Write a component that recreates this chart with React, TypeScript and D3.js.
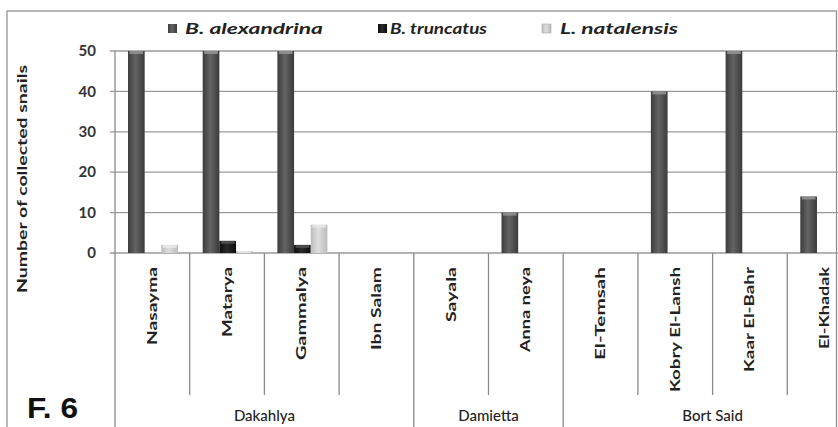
import React from "react";
import * as d3 from "d3";

const categories = ["Nasayma", "Matarya", "Gammalya", "Ibn Salam", "Sayala", "Anna neya", "El-Temsah", "Kobry El-Lansh", "Kaar El-Bahr", "El-Khadak"];
const seriesNames = ["B. alexandrina", "B. truncatus", "L. natalensis"];
const alexandrina = [50, 50, 50, 0, 0, 10, 0, 40, 50, 14];
const truncatus = [0, 3, 2, 0, 0, 0, 0, 0, 0, 0];
const natalensis = [2, 0.5, 7, 0, 0, 0, 0, 0, 0, 0];
const yTicks = [0, 10, 20, 30, 40, 50];
const groups = [
  { name: "Dakahlya", from: 0, to: 3 },
  { name: "Damietta", from: 4, to: 5 },
  { name: "Bort Said", from: 6, to: 9 },
];
const labelLengths = [78, 70, 93, 83, 55, 85, 93, 125, 105, 82];

const W = 838, H = 427;
const left = 115, catW = 74.7;
const x0 = d3.scaleBand<string>().domain(categories).range([left, left + catW * categories.length]).padding(0);
const x1 = d3.scaleBand<string>().domain(seriesNames).range([13, 63]).padding(0);
const y = d3.scaleLinear().domain([0, 50]).range([253, 51]);
const seriesValues = [alexandrina, truncatus, natalensis];
const grads = ["gA", "gT", "gN"];
const caps = ["#9a9a9a", "#555", "#e8e8e8"];

export default function App() {
  const font = "Lato, 'Open Sans', sans-serif";
  return (
    <div style={{ position: "absolute", left: 0, top: 0 }}>
      <svg width={W} height={H} style={{ display: "block", background: "#fff" }}>
        <defs>
          <linearGradient id="gA" x1="0" x2="1" y1="0" y2="0">
            <stop offset="0" stopColor="#3c3c3c" />
            <stop offset="0.45" stopColor="#646464" />
            <stop offset="1" stopColor="#3a3a3a" />
          </linearGradient>
          <linearGradient id="gT" x1="0" x2="1" y1="0" y2="0">
            <stop offset="0" stopColor="#0d0d0d" />
            <stop offset="0.45" stopColor="#2a2a2a" />
            <stop offset="1" stopColor="#0d0d0d" />
          </linearGradient>
          <linearGradient id="gN" x1="0" x2="1" y1="0" y2="0">
            <stop offset="0" stopColor="#bdbdbd" />
            <stop offset="0.45" stopColor="#dedede" />
            <stop offset="1" stopColor="#bcbcbc" />
          </linearGradient>
        </defs>
        {/* outer border */}
        <rect x={7} y={11} width={829.5} height={H} fill="none" stroke="#8a8a8a" strokeWidth={1.2} />

        {/* gridlines */}
        {yTicks.map((t) => (
          <g key={t}>
            <line x1={left - 5} x2={W} y1={y(t)} y2={y(t)} stroke="#9a9a9a" strokeWidth={1.3} />
            <text x={96} y={y(t)} dy="0.35em" textAnchor="end" fontFamily={font} fontWeight={700} fontSize={15} fill="#333">
              {t}
            </text>
          </g>
        ))}

        {/* axis line */}
        <line x1={left} x2={left} y1={y(50)} y2={H} stroke="#8a8a8a" strokeWidth={1.3} />

        {/* bars */}
        {categories.map((c, i) => (
          <g key={c}>
            {seriesNames.map((s, si) => {
              const v = seriesValues[si][i];
              if (v <= 0) return null;
              const bx = (x0(c) as number) + (x1(s) as number);
              const bw = x1.bandwidth();
              const top = y(v);
              const h = y(0) - top;
              return (
                <g key={s}>
                  <rect x={bx} y={top} width={bw} height={h} fill={`url(#${grads[si]})`} />
                  <rect x={bx + 1.5} y={top} width={bw - 3} height={Math.min(3, h)} fill={caps[si]} opacity={0.8} />
                </g>
              );
            })}
          </g>
        ))}

        {/* category dividers */}
        {categories.map((c, i) => {
          if (i === 0) return null;
          const xx = x0(c) as number;
          const isGroup = groups.some((g) => g.from === i);
          return <line key={c} x1={xx} x2={xx} y1={y(0)} y2={isGroup ? H : 395} stroke="#8a8a8a" strokeWidth={1.3} />;
        })}

        {/* category labels */}
        {categories.map((c, i) => {
          const cx = (x0(c) as number) + catW / 2;
          return (
            <text
              key={c}
              transform={`translate(${cx + 4.5},267) rotate(-90)`}
              textAnchor="end"
              fontFamily={font}
              fontWeight={700}
              fontSize={13}
              fill="#222"
              textLength={labelLengths[i]}
              lengthAdjust="spacingAndGlyphs"
            >
              {c}
            </text>
          );
        })}

        {/* group labels */}
        {groups.map((g) => {
          const a = x0(categories[g.from]) as number;
          const b = (x0(categories[g.to]) as number) + catW;
          return (
            <text key={g.name} x={(a + b) / 2} y={421} textAnchor="middle" fontFamily={font} fontWeight={500} fontSize={15} fill="#222">
              {g.name}
            </text>
          );
        })}

        {/* y title */}
        <text
          transform="translate(27,179) rotate(-90)"
          textAnchor="middle"
          fontFamily={font}
          fontWeight={700}
          fontSize={13}
          fill="#222"
          textLength={228}
          lengthAdjust="spacingAndGlyphs"
        >
          Number of collected snails
        </text>

        {/* legend */}
        {[
          { mx: 168, tx: 185, tl: 138 },
          { mx: 378, tx: 390, tl: 97 },
          { mx: 542, tx: 560, tl: 118 },
        ].map((l, i) => (
          <g key={seriesNames[i]}>
            <rect x={l.mx} y={24} width={9} height={9} fill={`url(#${grads[i]})`} stroke={i === 2 ? "#aaa" : "none"} strokeWidth={0.6} />
            <text
              x={l.tx}
              y={34}
              fontFamily={font}
              fontWeight={700}
              fontStyle="italic"
              fontSize={16}
              fill="#222"
              textLength={l.tl}
              lengthAdjust="spacingAndGlyphs"
            >
              {seriesNames[i]}
            </text>
          </g>
        ))}

        {/* figure label */}
        <text x={27} y={418} fontFamily="'Liberation Sans', Arial, sans-serif" fontWeight={700} fontSize={29} fill="#111" textLength={51} lengthAdjust="spacingAndGlyphs">
          F. 6
        </text>
      </svg>
    </div>
  );
}
